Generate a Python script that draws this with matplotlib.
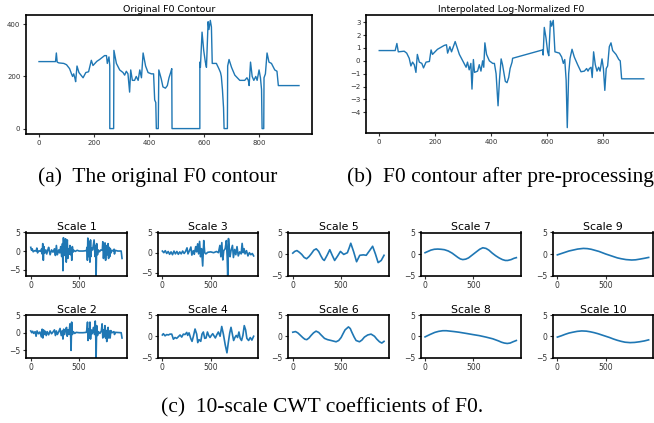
import matplotlib
matplotlib.use("Agg")
import matplotlib.pyplot as plt

# ---------------- data ----------------
# (a) original F0 contour
f0_x = [0, 60, 63, 66, 72, 90, 100, 111, 118, 122, 126, 130, 133, 138, 145, 160, 170, 180, 190, 196, 210, 220, 238, 245, 248, 254, 257, 257, 271, 272,
        281, 293, 305, 311, 317, 323, 329, 333, 339, 347, 353, 360, 366, 372, 378, 387, 396, 408, 416, 420, 424, 426, 433, 435, 444, 450, 459, 466, 472, 478, 482, 483,
        584, 584, 586, 592, 598, 604, 608, 614, 617, 622, 626, 629, 644, 653, 659, 662, 666, 670, 672, 684, 685, 690, 699, 711, 729, 747, 755, 760, 763, 768, 774, 780,
        787, 792, 799, 804, 808, 810, 816, 817, 822, 828, 835, 844, 856, 864, 869, 944]
f0_y = [257, 257, 290, 255, 252, 250, 245, 230, 210, 200, 210, 195, 180, 240, 215, 195, 215, 218, 262, 242, 258, 265, 280, 280, 250, 275, 240, 0, 0, 300,
        250, 225, 215, 205, 220, 210, 140, 225, 185, 185, 200, 185, 225, 195, 290, 240, 215, 210, 210, 110, 100, 0, 0, 225, 190, 160, 155, 165, 195, 215, 230, 0,
        0, 255, 235, 370, 300, 255, 235, 410, 380, 415, 390, 250, 250, 230, 215, 200, 150, 80, 0, 0, 240, 265, 235, 205, 185, 185, 195, 185, 165, 255, 200, 185,
        200, 185, 225, 195, 150, 0, 0, 195, 210, 290, 255, 250, 225, 220, 165, 165]

# (b) interpolated log-normalized F0
lf0_x = [0, 57, 63, 68, 89, 98, 107, 113, 119, 125, 131, 136, 143, 152, 158, 167, 179, 185, 190, 208, 232, 240, 244, 252, 258, 271, 286, 298, 310, 315, 321, 327,
         331, 336, 340, 351, 357, 363, 369, 373, 377, 383, 393, 405, 411, 417, 424, 429, 435, 440, 450, 456, 462, 467, 474, 476, 583, 585, 589, 595, 601, 605, 611,
         615, 621, 627, 643, 651, 657, 662, 667, 671, 676, 681, 688, 696, 708, 720, 732, 740, 745, 750, 756, 760, 765, 771, 777, 783, 788, 795, 800, 805, 810, 815,
         821, 827, 833, 845, 855, 860, 865, 944]
lf0_y = [0.8, 0.8, 1.35, 0.7, 0.75, 0.6, 0.2, -0.4, -0.1, -0.3, -0.9, 0.5, -0.1, -0.2, -0.55, -0.1, -0.05, 0.85, 0.5, 0.9, 1.2, 1.25, 0.6, 1.1, 0.7, 1.5, 0.5, 0.0, -0.5, -0.1, -0.7, -0.2,
         -2.2, 0.1, -0.9, -0.8, -0.3, -0.8, 0.0, -0.5, 1.4, 0.5, 0.0, -0.2, -0.2, -1.0, -3.5, -1.5, 0.15, -0.3, -1.6, -1.7, -1.3, -0.6, -0.1, 0.2, 0.85, 0.45, 2.6, 1.8, 0.7, 0.4, 3.1,
         2.7, 3.15, 0.7, 0.6, 0.3, -0.2, 0.1, -1.5, -5.2, -1.0, 0.2, 0.9, 0.3, -0.3, -0.85, -0.8, -0.6, -0.8, -0.6, -0.5, -1.3, 0.7, -0.3, -0.8, -0.5, -0.8, 0.15, -0.6, -2.3, -0.6, -0.4,
         1.1, 1.4, 0.8, 0.5, 0.1, 0.0, -1.4, -1.4]

# (c) CWT scales
s1_x = [0, 8, 15, 25, 40, 55, 63, 70, 85, 100, 113, 118, 124, 130, 136, 142, 155, 165, 175, 185, 200, 215, 230, 245, 255, 265, 275, 290, 300, 310, 320, 328, 333, 338,
        345, 352, 360, 367, 373, 378, 383, 390, 398, 405, 412, 420, 424, 430, 437, 445, 460, 480, 500, 540, 575, 582, 586, 590, 595, 600, 606, 612, 618, 622, 628, 640,
        655, 665, 671, 676, 682, 690, 698, 710, 725, 740, 745, 752, 758, 763, 768, 774, 780, 787, 793, 800, 805, 810, 817, 822, 830, 840, 855, 862, 866, 872, 900, 935, 944]
s1_y = [1.0, 0.2, 0.6, -0.2, 0.1, 0.0, 0.8, -0.5, 0.1, -0.1, 0.6, -0.8, 2.0, -2.5, 1.2, -0.6, 0.3, -0.8, 0.2, 1.0, -1.0, 0.3, -0.3, 0.6, -1.2, 1.5, -1.0, 0.3, -0.5, 1.2, -1.5, 2.0, -5.3, 3.6,
        -1.2, 0.8, 3.3, -3.0, 1.0, 3.0, -2.0, 0.5, -0.8, 1.5, -1.0, 0.8, -2.5, 1.2, -0.3, 0.2, -0.1, 0.2, 0.0, 0.0, 0.1, 1.0, -2.5, 3.5, -1.5, -0.5, 2.4, -3.0, 3.0, -1.5, 0.8, 0.3,
        3.0, -1.5, 1.5, -6.6, 2.0, -1.0, 0.3, -0.2, 0.3, 0.2, 2.5, -2.0, 0.5, -1.2, 2.2, -2.5, 0.4, 1.5, -1.0, 2.0, -2.0, 1.0, -1.5, 0.7, -0.5, 0.2, 0.0, 0.5, -0.8, 0.2, 0.0, 0.0, -2.0]
s2_x = [0, 10, 20, 30, 45, 55, 65, 80, 95, 110, 118, 125, 132, 140, 150, 160, 170, 185, 200, 215, 230, 245, 255, 265, 275, 290, 303, 315, 325, 333, 340, 350, 360, 370,
        377, 385, 395, 405, 412, 417, 423, 430, 440, 455, 470, 500, 540, 575, 582, 587, 592, 598, 605, 612, 618, 625, 635, 648, 660, 667, 672, 676, 682, 690, 700, 715,
        730, 738, 745, 752, 760, 767, 773, 780, 786, 793, 800, 806, 812, 821, 828, 840, 860, 866, 875, 935, 944]
s2_y = [0.5, 0.0, 0.4, -0.2, 0.3, -1.0, 0.5, -0.3, 0.2, -1.2, 1.0, -1.5, 0.8, -0.5, 0.4, -0.8, 0.3, -0.6, 0.5, -0.3, 0.2, 0.8, -0.8, 0.5, -0.5, 0.3, 1.2, -0.8, 0.5, -1.8, 1.0, -0.5, 0.8, 1.5,
        -1.0, 0.8, -0.5, 2.5, -0.5, -5.0, 3.0, -0.5, 0.3, -0.2, 0.1, 0.0, 0.0, 0.1, 1.2, 3.0, -2.2, 1.0, -1.5, 3.0, -1.8, 0.8, -0.3, 1.5, -0.5, 3.3, -1.0, -7.0, 2.0, -0.8, 0.3, -0.2,
        0.5, 2.5, -1.5, 0.8, -1.0, 2.0, -1.5, 0.5, -2.5, 0.8, 1.5, -1.5, 0.5, -1.5, 0.6, 0.0, 0.3, -0.5, 0.1, 0.0, -1.5]
s3_x = [0, 15, 30, 45, 60, 75, 90, 105, 120, 135, 150, 165, 180, 195, 210, 225, 240, 255, 265, 280, 295, 305, 320, 330, 345, 355, 365, 375, 385, 395, 405, 417, 428,
        438, 450, 470, 500, 530, 560, 580, 595, 605, 615, 625, 635, 650, 662, 670, 676, 684, 692, 700, 710, 725, 735, 748, 760, 772, 785, 800, 815, 825, 835, 845, 855,
        870, 885, 900, 915, 930, 944]
s3_y = [0.4, 0.0, 0.5, -0.2, 0.3, -0.4, 0.2, -0.5, 0.4, -0.3, 0.3, -0.4, 0.2, -0.3, 0.4, -0.2, 0.3, 1.2, -0.3, 0.5, 1.4, -0.6, 0.5, -0.4, 1.5, 0.2, 2.2, -0.3, 2.8, -1.0, 1.0, -3.3, 3.0,
        0.0, -0.3, 0.1, 0.2, 0.0, 0.3, 0.0, 1.8, -1.0, 2.5, -1.8, 0.5, 1.0, 3.0, -1.0, -5.65, 3.5, 1.0, -1.0, 0.5, 1.8, -1.2, 0.8, -0.5, 1.5, -0.8, 0.2, -0.3, 2.3, 0.0, 1.0, -0.3,
        0.5, -0.8, 0.0, -0.5, -0.2, -0.8]
s4_x = [0, 10, 28, 45, 62, 79, 97, 114, 131, 148, 166, 183, 200, 217, 234, 252, 262, 276, 293, 307, 321, 338, 355, 366, 379, 397, 410, 424, 438, 452, 466, 479, 493,
        507, 521, 534, 548, 562, 579, 597, 614, 631, 650, 668, 682, 697, 710, 724, 737, 750, 764, 778, 792, 805, 819, 833, 847, 861, 874, 892, 909, 926, 944]
s4_y = [0.3, 0.6, 0.1, 0.4, 0.3, 0.5, 0.5, -0.7, -0.3, -0.5, -0.1, 0.3, -0.2, 0.5, 0.4, 0.9, 0.2, 0.8, -0.5, -1.2, 0.0, 1.7, 0.5, -1.5, -0.8, -1.2, 0.5, 1.0, -0.5, -0.4, 1.0, 0.2, -0.3,
        0.2, 0.6, 0.1, -0.4, 0.3, 1.0, 0.0, 2.3, 0.5, -2.0, -3.9, -1.5, 0.8, 2.1, 0.5, -1.0, -0.3, 0.2, -0.3, 1.0, -0.5, -1.0, 0.2, 2.5, 1.5, -0.5, -1.0, -0.3, -0.9, 0.0]
s5_x = [0, 20, 43, 68, 93, 118, 143, 168, 193, 218, 243, 268, 290, 310, 326, 355, 383, 408, 433, 463, 493, 527, 565, 585, 600, 630, 660, 693, 730, 760, 795, 826, 855, 883, 915, 944]
s5_y = [0.2, 0.6, 0.8, 0.4, -0.1, -0.8, -1.1, -0.6, 0.1, 0.9, 1.2, 0.6, -0.4, -1.2, -1.5, -0.3, 1.0, -0.3, -1.5, -0.5, 0.6, -0.1, 0.3, 1.5, 2.5, 0.5, -1.8, -0.3, -0.2, -0.3, 0.8, 1.8, 0.0, -2.0, -1.5, -0.3]
s6_x = [0, 28, 52, 80, 103, 125, 145, 168, 190, 215, 241, 268, 293, 328, 360, 397, 448, 475, 500, 520, 541, 576, 595, 610, 635, 655, 690, 715, 741, 775, 810, 845, 870, 897, 921, 944]
s6_y = [0.95, 1.1, 0.8, 0.2, -0.3, -0.7, -0.8, -0.4, 0.2, 0.8, 1.2, 0.9, 0.3, -0.5, -0.8, -1.0, -1.3, -1.0, -0.3, 0.6, 1.5, 2.2, 1.8, 1.0, -0.2, -1.0, -1.3, -0.9, -0.2, 0.3, 0.5, 0.0, -0.7, -1.3, -1.6, -1.2]
s7_x = [0, 30, 60, 95, 131, 165, 200, 240, 280, 310, 340, 365, 390, 420, 450, 490, 530, 565, 597, 630, 660, 695, 730, 765, 800, 830, 855, 890, 920, 944]
s7_y = [0.3, 0.6, 0.9, 1.1, 1.15, 1.1, 1.0, 0.7, 0.2, -0.3, -0.8, -1.15, -1.3, -1.2, -0.9, -0.2, 0.5, 1.1, 1.45, 1.3, 0.9, 0.2, -0.4, -0.9, -1.3, -1.5, -1.5, -1.3, -1.0, -0.85]
s8_x = [0, 50, 100, 140, 183, 220, 260, 300, 350, 390, 430, 493, 560, 630, 700, 730, 760, 790, 820, 850, 880, 910, 944]
s8_y = [-0.15, 0.4, 0.9, 1.15, 1.3, 1.3, 1.2, 1.1, 0.95, 0.8, 0.65, 0.4, 0.15, -0.2, -0.6, -0.85, -1.1, -1.4, -1.6, -1.7, -1.6, -1.3, -1.0]
s9_x = [0, 40, 80, 120, 160, 210, 269, 310, 350, 390, 430, 465, 500, 540, 580, 620, 660, 710, 769, 810, 850, 900, 944]
s9_y = [-0.2, 0.1, 0.4, 0.7, 0.9, 1.15, 1.3, 1.25, 1.1, 0.85, 0.6, 0.3, 0.0, -0.3, -0.6, -0.9, -1.1, -1.3, -1.4, -1.35, -1.2, -1.0, -0.8]
s10_x = [0, 40, 80, 120, 160, 205, 252, 300, 340, 380, 420, 460, 500, 540, 580, 620, 660, 700, 752, 800, 850, 900, 944]
s10_y = [-0.2, 0.1, 0.45, 0.75, 0.95, 1.15, 1.25, 1.2, 1.05, 0.85, 0.6, 0.3, 0.0, -0.3, -0.65, -0.95, -1.2, -1.4, -1.5, -1.45, -1.3, -1.1, -0.85]

scales_top = [("Scale 1", s1_x, s1_y), ("Scale 3", s3_x, s3_y), ("Scale 5", s5_x, s5_y),
              ("Scale 7", s7_x, s7_y), ("Scale 9", s9_x, s9_y)]
scales_bot = [("Scale 2", s2_x, s2_y), ("Scale 4", s4_x, s4_y), ("Scale 6", s6_x, s6_y),
              ("Scale 8", s8_x, s8_y), ("Scale 10", s10_x, s10_y)]

captions = ["(a)  The original F0 contour", "(b)  F0 contour after pre-processing",
            "(c)  10-scale CWT coefficients of F0."]

# ---------------- layout ----------------
W, H = 654, 423
fig = plt.figure(figsize=(W / 100, H / 100), dpi=100)
fig.patch.set_facecolor("white")
C = "#1f77b4"


def add_ax(left, top, right, bottom):
    return fig.add_axes([left / W, 1 - bottom / H, (right - left) / W, (bottom - top) / H])


def style(ax, lw=1.2, fs=5.5, length=2.5):
    for s in ax.spines.values():
        s.set_linewidth(lw)
        s.set_color("black")
    ax.tick_params(labelsize=fs, length=length, width=0.8, pad=1.5, colors="#333333")


# (a)
axa = add_ax(26, 15, 312, 134)
axa.plot(f0_x, f0_y, color=C, lw=1.0)
axa.set_yticks([0, 200, 400])
axa.set_xticks([0, 200, 400, 600, 800])
axa.set_title("Original F0 Contour", fontsize=6.8, pad=2)
style(axa, fs=5)

# (b)
axb = add_ax(366, 15, 657, 133)
axb.plot(lf0_x, lf0_y, color=C, lw=1.0)
axb.set_yticks([-4, -3, -2, -1, 0, 1, 2, 3])
axb.set_xticks([0, 200, 400, 600, 800])
axb.set_title("Interpolated Log-Normalized F0", fontsize=6.7, pad=2)
style(axb, fs=5)

fig.text(158 / W, 1 - 177 / H, captions[0], family="Liberation Serif", fontsize=15.5, ha="center", va="center")
fig.text(500 / W, 1 - 177 / H, captions[1], family="Liberation Serif", fontsize=15.5, ha="center", va="center")
fig.text(322 / W, 1 - 408 / H, captions[2], family="Liberation Serif", fontsize=15.5, ha="center", va="center")

lefts = [26.2, 157.8, 288.2, 420.5, 552.8]
wid = 100.4
for row, (top, bot, items) in enumerate([(232.5, 275.5, scales_top), (315, 357.5, scales_bot)]):
    for i, (name, xs, ys) in enumerate(items):
        ax = add_ax(lefts[i], top, lefts[i] + wid, bot)
        ax.plot(xs, ys, color=C, lw=1.2)
        ax.set_ylim(min(-5, min(ys)), max(5, max(ys)))
        ax.set_xlim(-47.2, 991.2)
        ax.set_yticks([-5, 0, 5])
        ax.set_xticks([0, 500])
        ax.set_title(name, fontsize=7.8, pad=1.5)
        style(ax, lw=1.2, fs=5.5)

fig.savefig("out.png", dpi=100, facecolor="white")
